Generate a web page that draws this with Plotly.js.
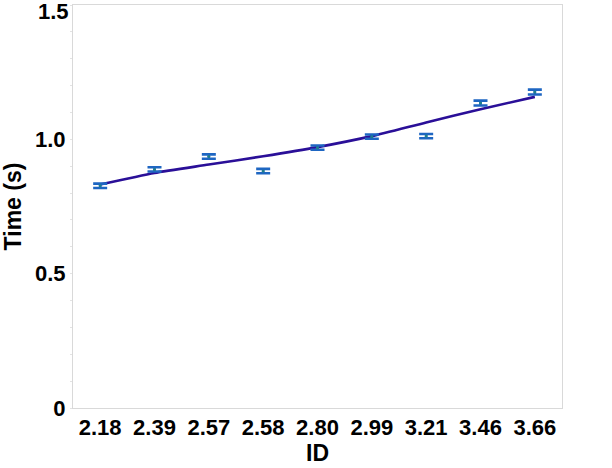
<!DOCTYPE html>
<html>
<head>
<meta charset="utf-8">
<script src="https://cdn.plot.ly/plotly-3.0.1.min.js"></script>
<style>
  html, body { margin: 0; padding: 0; background: #fff; }
  #chart { width: 612px; height: 468px; }
</style>
</head>
<body>
<div id="chart"></div>
<script>
// categories on the x axis (ID)
var ids = ['2.18', '2.39', '2.57', '2.58', '2.80', '2.99', '3.21', '3.46', '3.66'];
// measured mean times and their error
var meanTime = [0.827, 0.888, 0.936, 0.882, 0.969, 1.010, 1.012, 1.135, 1.176];
var timeErr = [0.008, 0.008, 0.008, 0.008, 0.008, 0.008, 0.008, 0.009, 0.009];
// fitted curve
var fitTime = [0.832, 0.875, 0.906, 0.937, 0.971, 1.012, 1.063, 1.112, 1.158];
// y tick labels (the top one is drawn below its tick, as in the original)
var yTickVals = [0, 0.5, 1.0, 1.5];
var yTickText = ['0', '0.5', '1.0', ''];
var yTopLabel = '1.5';

var bold = function (s) { return '<b>' + s + '</b>'; };

var tickFont = { family: 'Liberation Sans, Arial, sans-serif', size: 22, color: '#000' };
var titleFont = { family: 'Liberation Sans, Arial, sans-serif', size: 23, color: '#000' };

var fit = {
    x: ids,
    y: fitTime,
    type: 'scatter',
    mode: 'lines',
    line: { color: '#2a0f98', width: 2.6, shape: 'spline', smoothing: 0.6 },
    hoverinfo: 'skip'
};

var points = {
    x: ids,
    y: meanTime,
    type: 'scatter',
    mode: 'markers',
    marker: { size: 3, color: '#1f7f8a' },
    error_y: {
        type: 'data',
        array: timeErr,
        visible: true,
        color: '#1e66c2',
        thickness: 2.6,
        width: 7
    }
};

var layout = {
    width: 612,
    height: 468,
    margin: { l: 73, r: 50, t: 5, b: 60 },
    paper_bgcolor: '#fff',
    plot_bgcolor: '#fff',
    showlegend: false,
    xaxis: {
        type: 'category',
        range: [-0.5, 8.5],
        showgrid: false,
        zeroline: false,
        showline: true,
        mirror: true,
        linecolor: '#d9d9d9',
        linewidth: 1,
        tickmode: 'array',
        tickvals: ids,
        ticktext: ids.map(bold),
        ticks: '',
        tickfont: tickFont,
        title: { text: bold('ID'), font: titleFont, standoff: 3 }
    },
    yaxis: {
        range: [0, 1.5],
        showgrid: false,
        zeroline: false,
        showline: true,
        mirror: true,
        linecolor: '#d9d9d9',
        linewidth: 1,
        tickmode: 'array',
        tickvals: yTickVals,
        ticktext: yTickText.map(bold),
        ticks: 'outside',
        ticklen: 2,
        tickcolor: '#e3e3e3',
        minor: { dtick: 0.1, ticks: 'outside', ticklen: 2, tickcolor: '#e3e3e3', showgrid: false },
        tickfont: tickFont,
        title: { text: bold('Time (s)'), font: titleFont, standoff: 6 }
    },
    annotations: [{
        xref: 'paper', yref: 'y',
        x: 0, y: 1.5,
        xanchor: 'right', yanchor: 'top',
        xshift: -2, yshift: 8,
        showarrow: false,
        text: bold(yTopLabel),
        font: tickFont
    }]
};

Plotly.newPlot('chart', [fit, points], layout, { displayModeBar: false, staticPlot: true });
</script>
</body>
</html>
